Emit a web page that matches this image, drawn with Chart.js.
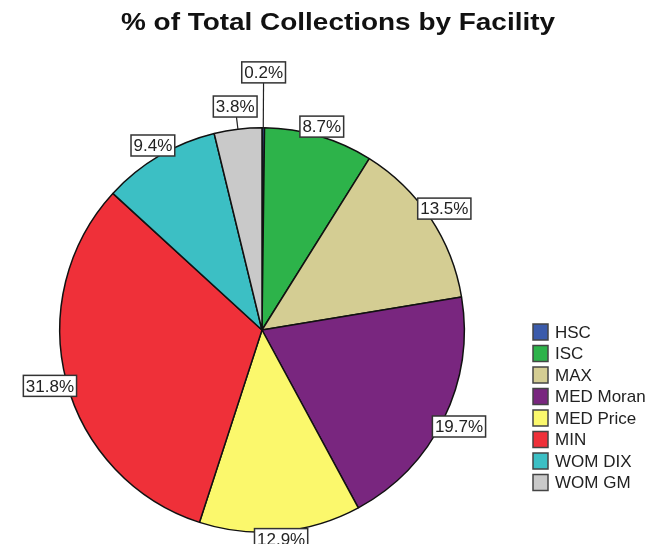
<!DOCTYPE html>
<html>
<head>
<meta charset="utf-8">
<script src="https://cdn.jsdelivr.net/npm/chart.js@4.4.0/dist/chart.umd.min.js"></script>
<style>
  html, body { margin: 0; padding: 0; background: #fff; }
  #wrap { position: relative; width: 652px; height: 544px; }
</style>
</head>
<body>
<div id="wrap"><canvas id="chart" width="652" height="544"></canvas></div>
<script>
// Chart data
const facilities = ['HSC', 'ISC', 'MAX', 'MED Moran', 'MED Price', 'MIN', 'WOM DIX', 'WOM GM'];
const percents = [0.2, 8.7, 13.5, 19.7, 12.9, 31.8, 9.4, 3.8];
const sliceColors = ['#3b5bab', '#2db34a', '#d4cd93', '#79267f', '#fbf86c', '#ef3039', '#3cbfc4', '#c9c9c9'];
const chartTitle = '% of Total Collections by Facility';

const FONT = '"Liberation Sans", Arial, sans-serif';

/**
 * Checks if two boxes overlap (with a gap between them)
 */
function overlaps(a, b) {
  const gap = 12;
  return a.x < b.x + b.w + gap && b.x < a.x + a.w + gap
    && a.y < b.y + b.h + gap && b.y < a.y + a.h + gap;
}

// Boxed percentage labels round the pie
const boxLabels = {
  id: 'boxLabels',
  afterDatasetsDraw(chart) {
    const { ctx } = chart;
    const arcs = chart.getDatasetMeta(0).data;
    ctx.save();
    ctx.font = '17px ' + FONT;
    ctx.textAlign = 'center';
    ctx.textBaseline = 'middle';

    // Big slices first, small ones get pushed out when they collide
    const order = arcs.map((a, i) => i).sort((a, b) => percents[b] - percents[a]);
    const placed = [];

    order.forEach((i) => {
      const p = arcs[i].getProps(['x', 'y', 'startAngle', 'endAngle', 'outerRadius'], true);
      const mid = (p.startAngle + p.endAngle) / 2;
      const cos = Math.cos(mid);
      const sin = Math.sin(mid);
      const text = percents[i].toFixed(1) + '%';
      const w = ctx.measureText(text).width + 5;
      const h = 21;
      const extent = (w / 2) * Math.abs(cos) + (h / 2) * Math.abs(sin);
      const small = percents[i] < 5;
      let dist = p.outerRadius + extent * 0.6 + (small ? 15 : 0);
      const makeBox = (d) => ({ x: p.x + cos * d - w / 2, y: p.y + sin * d - h / 2, w, h });
      let box = makeBox(dist);
      while (placed.some((b) => overlaps(b, box))) {
        dist += 2;
        box = makeBox(dist);
      }
      placed.push(box);

      // Leader line for small slices
      if (small) {
        ctx.strokeStyle = '#222';
        ctx.lineWidth = 1.2;
        ctx.beginPath();
        ctx.moveTo(p.x + cos * p.outerRadius, p.y + sin * p.outerRadius);
        ctx.lineTo(box.x + w / 2, box.y + h / 2);
        ctx.stroke();
      }

      ctx.fillStyle = '#fff';
      ctx.fillRect(box.x, box.y, w, h);
      ctx.strokeStyle = '#333';
      ctx.lineWidth = 1.5;
      ctx.strokeRect(box.x, box.y, w, h);
      ctx.fillStyle = '#222';
      ctx.fillText(text, box.x + w / 2, box.y + h / 2 + 1);
    });
    ctx.restore();
  },
  afterDraw(chart) {
    const { ctx } = chart;
    ctx.save();

    // Title, stretched a little like the original
    ctx.font = 'bold 24px ' + FONT;
    ctx.fillStyle = '#111';
    ctx.textBaseline = 'alphabetic';
    const tw = ctx.measureText(chartTitle).width;
    const sx = 434 / tw;
    ctx.translate(338, 30);
    ctx.scale(sx, 1);
    ctx.textAlign = 'center';
    ctx.fillText(chartTitle, 0, 0);
    ctx.restore();

    // Legend
    ctx.save();
    ctx.font = '17px ' + FONT;
    ctx.textBaseline = 'middle';
    ctx.textAlign = 'left';
    chart.data.labels.forEach((label, i) => {
      const y = 332 + i * 21.5;
      ctx.fillStyle = chart.data.datasets[0].backgroundColor[i];
      ctx.fillRect(533, y - 8, 15, 16);
      ctx.strokeStyle = '#444';
      ctx.lineWidth = 1.5;
      ctx.strokeRect(533, y - 8, 15, 16);
      ctx.fillStyle = '#222';
      ctx.fillText(label, 555, y + 1);
    });
    ctx.restore();
  },
};

const chart = new Chart(document.getElementById('chart').getContext('2d'), {
  type: 'pie',
  data: {
    labels: facilities,
    datasets: [{
      data: percents,
      backgroundColor: sliceColors,
      borderColor: '#111',
      borderWidth: 1.5,
      hoverOffset: 0,
    }],
  },
  options: {
    responsive: false,
    animation: false,
    layout: { padding: { left: 59, right: 187, top: 127, bottom: 11 } },
    plugins: {
      legend: { display: false },
      title: { display: false },
      tooltip: { enabled: false },
    },
  },
  plugins: [boxLabels],
});
</script>
</body>
</html>
